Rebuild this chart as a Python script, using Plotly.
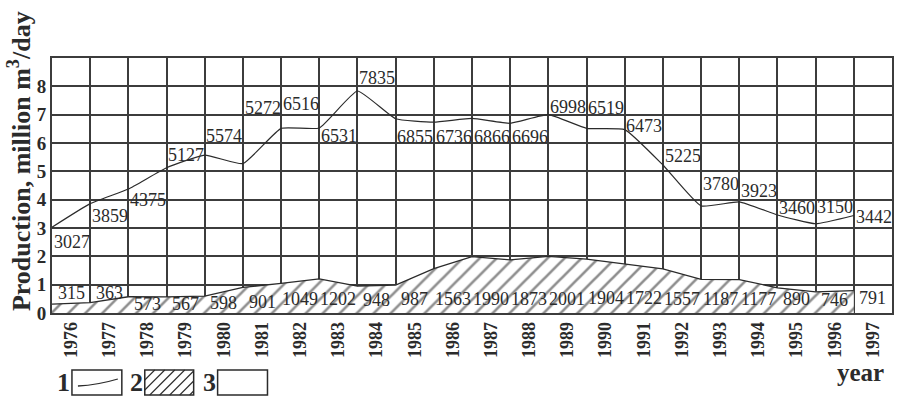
import plotly.graph_objects as go

# Annual production, thousand units (plotted as millions of m3/day)
years = list(range(1976, 1998))
total_prod = [3027, 3859, 4375, 5127, 5574, 5272, 6516, 6531, 7835, 6855, 6736,
              6866, 6696, 6998, 6519, 6473, 5225, 3780, 3923, 3460, 3150, 3442]
hatched_prod = [315, 363, 573, 567, 598, 901, 1049, 1202, 948, 987, 1563,
                1990, 1873, 2001, 1904, 1722, 1557, 1187, 1177, 890, 746, 791]

# Vertical placement of the value labels (offset from the point, in axis units)
total_label_dy = [-0.53, -0.45, -0.38, 0.46, 0.69, 1.97, 0.86, -0.27, 0.46, -0.64, -0.52,
                  -0.65, -0.48, 0.28, 0.72, 0.14, 0.33, 0.79, 0.37, 0.23, 0.58, -0.06]
hatched_label_y = [0.70, 0.70, 0.33, 0.33, 0.35, 0.38, 0.48, 0.48, 0.45, 0.50, 0.50,
                   0.50, 0.50, 0.50, 0.52, 0.52, 0.50, 0.50, 0.50, 0.48, 0.45, 0.53]

SERIF = "Liberation Serif, Times New Roman, serif"
INK = "#2b2b2b"
GRID = "#3c3c3c"

# plot-area geometry in pixels (used for paper-coordinate decorations)
L, R, T, B = 52, 894, 58, 313


def px(x):
    return (x - L) / (R - L)


def py(y):
    return (B - y) / (B - T)


fig = go.Figure()

fig.add_trace(go.Scatter(
    x=years, y=[v / 1000 for v in hatched_prod],
    mode="lines", fill="tozeroy",
    line=dict(color=INK, width=1.3),
    fillcolor="white",
    fillpattern=dict(shape="/", fgcolor="#1e1e1e", bgcolor="white", size=12, solidity=0.22),
    hoverinfo="skip", showlegend=False,
))

fig.add_trace(go.Scatter(
    x=years, y=[v / 1000 for v in total_prod],
    mode="lines",
    line=dict(color=INK, width=1.2, shape="spline", smoothing=0.4),
    hoverinfo="skip", showlegend=False,
))

annotations = []
for yr, v, dy in zip(years, total_prod, total_label_dy):
    annotations.append(dict(
        x=yr + 0.02, y=v / 1000 + dy, xref="x", yref="y",
        text=str(v), showarrow=False, xanchor="left", yanchor="middle",
        font=dict(family=SERIF, size=18, color=INK), borderpad=0,
    ))
for yr, v, ly in zip(years, hatched_prod, hatched_label_y):
    annotations.append(dict(
        x=yr + 0.5, y=ly, xref="x", yref="y",
        text=str(v), showarrow=False, xanchor="center", yanchor="middle",
        font=dict(family=SERIF, size=18, color=INK), borderpad=0,
    ))

# axis titles
annotations.append(dict(
    x=px(19), y=py(161), xref="paper", yref="paper",
    text="Production, million m<sup>3</sup>/day", textangle=-90,
    showarrow=False, xanchor="center", yanchor="middle",
    font=dict(family=SERIF, size=26, color=INK, weight="bold"),
))
annotations.append(dict(
    x=px(862), y=py(372), xref="paper", yref="paper",
    text="year", showarrow=False, xanchor="center", yanchor="middle",
    font=dict(family=SERIF, size=25, color=INK, weight="bold"),
))

# key below the chart: 1 = line, 2 = hatched, 3 = empty
key_boxes = [(72, 122), (145, 194), (218, 268)]
key_top, key_bot = 370, 395
shapes = []
for i, (x0, x1) in enumerate(key_boxes):
    annotations.append(dict(
        x=px(x0 - 8), y=py(382), xref="paper", yref="paper",
        text=str(i + 1), showarrow=False, xanchor="center", yanchor="middle",
        font=dict(family=SERIF, size=26, color=INK, weight="bold"),
    ))
    shapes.append(dict(
        type="rect", xref="paper", yref="paper",
        x0=px(x0), x1=px(x1), y0=py(key_bot), y1=py(key_top),
        line=dict(color=INK, width=1.5), fillcolor="white",
    ))

# line sample in box 1
shapes.append(dict(
    type="path", xref="paper", yref="paper",
    path="M {:.5f},{:.5f} Q {:.5f},{:.5f} {:.5f},{:.5f}".format(
        px(78), py(386), px(98), py(385), px(118), py(379)),
    line=dict(color=INK, width=1.3),
))

# hatch sample in box 2: diagonal strokes clipped to the box
hx0, hx1 = key_boxes[1]
h = key_bot - key_top
for start in range(hx0 - h, hx1, 10):
    xa, ya = start, key_bot
    xb, yb = start + h, key_top
    if xa < hx0:
        ya = key_bot - (hx0 - xa)
        xa = hx0
    if xb > hx1:
        yb = key_top + (xb - hx1)
        xb = hx1
    if xb - xa < 2:
        continue
    shapes.append(dict(
        type="line", xref="paper", yref="paper",
        x0=px(xa), y0=py(ya), x1=px(xb), y1=py(yb),
        line=dict(color=INK, width=1.1),
    ))

fig.update_layout(
    width=897, height=399,
    margin=dict(l=L, r=897 - R, t=T, b=399 - B),
    paper_bgcolor="white", plot_bgcolor="white",
    annotations=annotations, shapes=shapes,
    showlegend=False,
)

fig.update_xaxes(
    range=[1976, 1998],
    tickmode="array",
    tickvals=[y + 0.5 for y in years],
    ticktext=[str(y) for y in years],
    tickangle=-90,
    tickfont=dict(family=SERIF, size=18, color=INK, weight="bold"),
    ticks="", showgrid=False, zeroline=False,
    minor=dict(tickmode="linear", tick0=1976, dtick=1, showgrid=True,
               gridcolor=GRID, gridwidth=1.6, ticks=""),
    showline=True, linecolor=GRID, linewidth=1.8, mirror=True,
)

fig.update_yaxes(
    range=[0, 9],
    tickmode="array", tickvals=list(range(0, 9)),
    ticktext=[str(v) for v in range(0, 9)],
    tickfont=dict(family=SERIF, size=19, color=INK, weight="bold"),
    ticks="", showgrid=True, gridcolor=GRID, gridwidth=1.6, zeroline=False,
    showline=True, linecolor=GRID, linewidth=1.8, mirror=True,
)

fig.write_html("out.html")
